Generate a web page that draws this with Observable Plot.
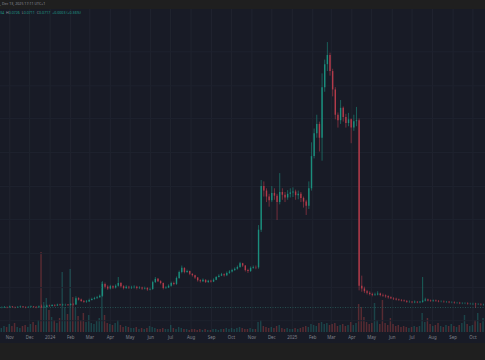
<!DOCTYPE html>
<html><head><meta charset="utf-8">
<script src="https://cdn.jsdelivr.net/npm/d3@7"></script>
<script src="https://cdn.jsdelivr.net/npm/@observablehq/plot@0.6"></script>
<style>
html,body{margin:0;padding:0;background:#1f1f1f;}
#wrap{position:relative;width:485px;height:360px;overflow:hidden;background:#1f1f1f;font-family:"Noto Sans",Roboto,sans-serif;}
#pane{position:absolute;left:0;top:9px;width:485px;height:334px;background:#181b26;}
.layer{position:absolute;left:0;top:0;}
#h1{position:absolute;left:0;top:1px;font-size:3.6px;color:#8c8f98;white-space:nowrap;}
#h2{position:absolute;left:0;top:10px;font-size:3.6px;color:#1f9a88;white-space:nowrap;}
#h2 b{font-weight:normal;color:#8c8f98;}
</style></head>
<body><div id="wrap"><div id="pane"></div>
<div id="h1">, Dec 13, 2025 17:11 UTC+1</div>
<div id="h2">34 &nbsp;<b>H</b>0.0726 &nbsp;<b>L</b>0.0711 &nbsp;<b>C</b>0.0717 &nbsp;+0.0003 (+0.36%)</div>
</div>
<script>
// candle period: 4 days, first candle starts 2023-10-18
const startDate = "2023-10-18";
const endDate = "2025-10-20";
const candleDays = 4;
const firstOpen = 0.071;
const closes = [
0.071,0.072,0.071,0.073,0.072,0.071,0.072,0.073,0.072,0.071,0.072,0.073,0.072,0.071,0.073,0.071,0.072,0.075,0.074,0.076,0.075,0.077,0.076,0.077,0.077,0.076,0.078,0.077,
0.091,0.088,0.085,0.083,0.084,0.087,0.089,0.091,0.093,0.096,
0.122,0.116,0.112,0.117,0.114,0.118,0.124,0.117,0.113,0.116,0.114,0.115,
0.116,0.113,0.114,0.112,0.113,0.110,0.111,
0.126,0.133,0.128,0.124,0.113,0.114,0.118,0.124,0.122,0.135,0.148,0.157,0.148,0.150,0.144,0.141,0.136,0.130,0.128,0.131,0.126,0.129,0.127,0.131,0.137,0.140,0.143,0.141,0.146,0.149,0.152,0.155,0.159,0.167,0.162,0.152,0.150,0.157,0.159,0.158,0.240,
0.335,0.325,0.312,0.304,0.320,0.314,0.300,0.322,0.316,0.310,0.318,0.321,0.323,0.315,0.318,0.309,0.301,0.292,0.330,0.400,0.450,0.470,0.440,0.550,0.600,0.620,0.585,0.545,0.490,0.478,0.505,0.485,0.472,0.480,0.462,0.476,0.478,0.118,
0.112,0.106,0.103,0.100,0.098,0.099,0.101,0.098,0.097,0.095,0.093,0.091,0.090,0.088,0.087,0.086,0.085,0.083,0.083,0.082,0.083,0.082,0.083,0.086,0.088,0.086,0.085,0.086,0.085,0.084,0.084,0.083,0.083,0.082,0.082,0.081,0.081,0.080,0.080,0.080,0.079,0.079,0.079,0.078,0.078,0.077,0.077];
const highs = [
0.073,0.074,0.073,0.075,0.074,0.073,0.074,0.075,0.074,0.073,0.074,0.075,0.074,0.074,0.075,0.077,0.075,0.077,0.077,0.078,0.078,0.079,0.079,0.079,0.079,0.078,0.080,0.080,
0.095,0.093,0.090,0.087,0.087,0.090,0.092,0.094,0.096,0.099,
0.128,0.125,0.119,0.120,0.119,0.121,0.137,0.126,0.119,0.119,0.118,0.118,
0.119,0.118,0.117,0.116,0.116,0.115,0.114,
0.129,0.137,0.135,0.130,0.125,0.117,0.121,0.127,0.127,0.138,0.151,0.162,0.158,0.153,0.151,0.145,0.142,0.137,0.132,0.134,0.132,0.131,0.131,0.134,0.139,0.143,0.146,0.145,0.149,0.152,0.155,0.158,0.162,0.170,0.168,0.163,0.155,0.160,0.162,0.162,0.250,
0.348,0.345,0.330,0.318,0.335,0.330,0.318,0.363,0.330,0.322,0.326,0.330,0.332,0.327,0.325,0.322,0.312,0.305,0.345,0.430,0.460,0.490,0.475,0.580,0.610,0.648,0.625,0.590,0.550,0.495,0.522,0.508,0.492,0.494,0.482,0.490,0.507,0.482,
0.140,0.116,0.109,0.106,0.103,0.103,0.106,0.103,0.101,0.099,0.097,0.095,0.093,0.092,0.090,0.089,0.088,0.087,0.086,0.085,0.086,0.085,0.085,0.137,0.092,0.090,0.088,0.088,0.088,0.087,0.086,0.086,0.085,0.085,0.084,0.084,0.083,0.083,0.082,0.082,0.082,0.081,0.081,0.081,0.080,0.080,0.079];
const lows = [
0.069,0.070,0.069,0.070,0.070,0.069,0.070,0.071,0.070,0.069,0.070,0.071,0.070,0.069,0.070,0.070,0.070,0.071,0.072,0.073,0.073,0.074,0.074,0.074,0.074,0.074,0.075,0.075,
0.076,0.086,0.083,0.081,0.081,0.083,0.086,0.088,0.090,0.092,
0.094,0.112,0.109,0.110,0.111,0.112,0.116,0.114,0.110,0.111,0.111,0.111,
0.112,0.110,0.111,0.109,0.110,0.107,0.108,
0.109,0.124,0.126,0.121,0.110,0.111,0.113,0.116,0.119,0.120,0.133,0.145,0.145,0.146,0.141,0.138,0.133,0.127,0.125,0.126,0.124,0.124,0.125,0.126,0.130,0.136,0.139,0.138,0.139,0.144,0.147,0.150,0.153,0.157,0.159,0.149,0.146,0.148,0.155,0.154,0.155,
0.235,0.312,0.300,0.290,0.300,0.305,0.261,0.295,0.305,0.300,0.305,0.310,0.311,0.305,0.306,0.300,0.288,0.272,0.285,0.325,0.395,0.440,0.410,0.390,0.540,0.585,0.575,0.530,0.480,0.462,0.470,0.475,0.462,0.465,0.428,0.455,0.465,0.108,
0.105,0.102,0.099,0.097,0.095,0.096,0.097,0.095,0.094,0.092,0.090,0.089,0.087,0.086,0.085,0.084,0.083,0.081,0.081,0.080,0.080,0.080,0.080,0.081,0.084,0.084,0.083,0.083,0.083,0.082,0.082,0.081,0.081,0.080,0.080,0.079,0.079,0.078,0.078,0.078,0.077,0.077,0.076,0.070,0.076,0.075,0.075];
const volumes = [
4,6,5,8,6,9,5,4,6,7, 5,8,10,7,12,80,30,34,22,15, 12,9,14,60,25,18,63,35,24,16,
12,19,10,17,9,8,11,14,50,17, 9,8,7,9,12,7,5,6,5,4, 4,5,3,4,3,4,6,5,4,3,
3,4,3,3,7,4,3,5,4,3, 3,2,3,3,2,3,2,3,2,2, 3,3,2,3,3,4,3,4,3,4,
5,4,3,3,4,3,3,10,12,6, 5,4,5,4,6,7,4,3,4,3, 3,4,3,4,5,6,5,8,7,6,
9,10,8,9,7,8,9,6,7,8, 6,7,10,7,9,28,25,15,10,8, 9,29,12,8,32,9,7,14,8,6,
7,5,6,5,4,5,6,5,6,19, 10,14,8,6,7,9,6,5,7,6, 8,6,5,7,9,17,8,6,7,12,
19,9,14];
const monthTicks = ["2023-11-01","2023-12-01","2024-01-01","2024-02-01","2024-03-01","2024-04-01","2024-05-01","2024-06-01","2024-07-01","2024-08-01","2024-09-01","2024-10-01","2024-11-01","2024-12-01","2025-01-01","2025-02-01","2025-03-01","2025-04-01","2025-05-01","2025-06-01","2025-07-01","2025-08-01","2025-09-01","2025-10-01"];
const monthLabels = ["Nov","Dec","2024","Feb","Mar","Apr","May","Jun","Jul","Aug","Sep","Oct","Nov","Dec","2025","Feb","Mar","Apr","May","Jun","Jul","Aug","Sep","Oct"];
const gridPrices = [0.043,0.115,0.189,0.263,0.335,0.409,0.483,0.554,0.628];
const lastPrice = 0.0717;

const t0 = new Date(startDate), tEnd = new Date(endDate);
const ticks = monthTicks.map(s => new Date(s));
const data = closes.map((c, i) => {
  const open = i === 0 ? firstOpen : closes[i - 1];
  const a = d3.utcDay.offset(t0, i * candleDays);
  return {a, b: d3.utcDay.offset(a, candleDays), t: d3.utcDay.offset(a, candleDays / 2),
    open, close: c, high: Math.max(highs[i], open, c), low: Math.min(lows[i], open, c),
    vol: volumes[i], dir: c >= open ? "up" : "down"};
});
const W = 485, H = 360;
const colorUp = "#1b8e7d", colorDown = "#b23b4a";

const volPlot = Plot.plot({
  width: W, height: H, marginTop: 9, marginBottom: 28, marginLeft: 0, marginRight: 0,
  x: {type: "utc", domain: [t0, tEnd], axis: null},
  y: {domain: [0, 323], axis: null},
  color: {domain: ["up", "down"], range: ["#26a69a", "#ef5350"]},
  style: {background: "transparent", overflow: "visible"},
  marks: [
    Plot.ruleX(ticks, {stroke: "#20242f", strokeWidth: 1}),
    Plot.rectY(data, {x1: "a", x2: "b", y: "vol", fill: "dir", fillOpacity: 0.3, insetLeft: 0.6, insetRight: 0.6}),
    Plot.text(ticks, {x: d => d, text: (d, i) => monthLabels[i], frameAnchor: "bottom", dy: 6, fill: "#80838c", fontSize: 4.4, fontFamily: "Noto Sans, sans-serif"})
  ]
});
const pricePlot = Plot.plot({
  width: W, height: H, marginTop: 9, marginBottom: 20, marginLeft: 0, marginRight: 0,
  x: {type: "utc", domain: [t0, tEnd], axis: null},
  y: {domain: [0, 0.72], axis: null},
  color: {domain: ["up", "down"], range: [colorUp, colorDown]},
  style: {background: "transparent", overflow: "visible"},
  marks: [
    Plot.ruleY(gridPrices, {stroke: "#1e222e", strokeWidth: 1}),
    Plot.ruleY([lastPrice], {stroke: "#2a5f5d", strokeWidth: 0.8, strokeDasharray: "1,1.5"}),
    Plot.ruleX(data, {x: "t", y1: "low", y2: "high", stroke: "dir", strokeWidth: 0.6}),
    Plot.ruleX(data, {x: "t", y1: "open", y2: "close", stroke: "dir", strokeWidth: 1.4})
  ]
});
volPlot.classList.add("layer");
pricePlot.classList.add("layer");
const wrap = document.getElementById("wrap");
wrap.insertBefore(volPlot, document.getElementById("h1"));
wrap.insertBefore(pricePlot, document.getElementById("h1"));
</script>
</body></html>
